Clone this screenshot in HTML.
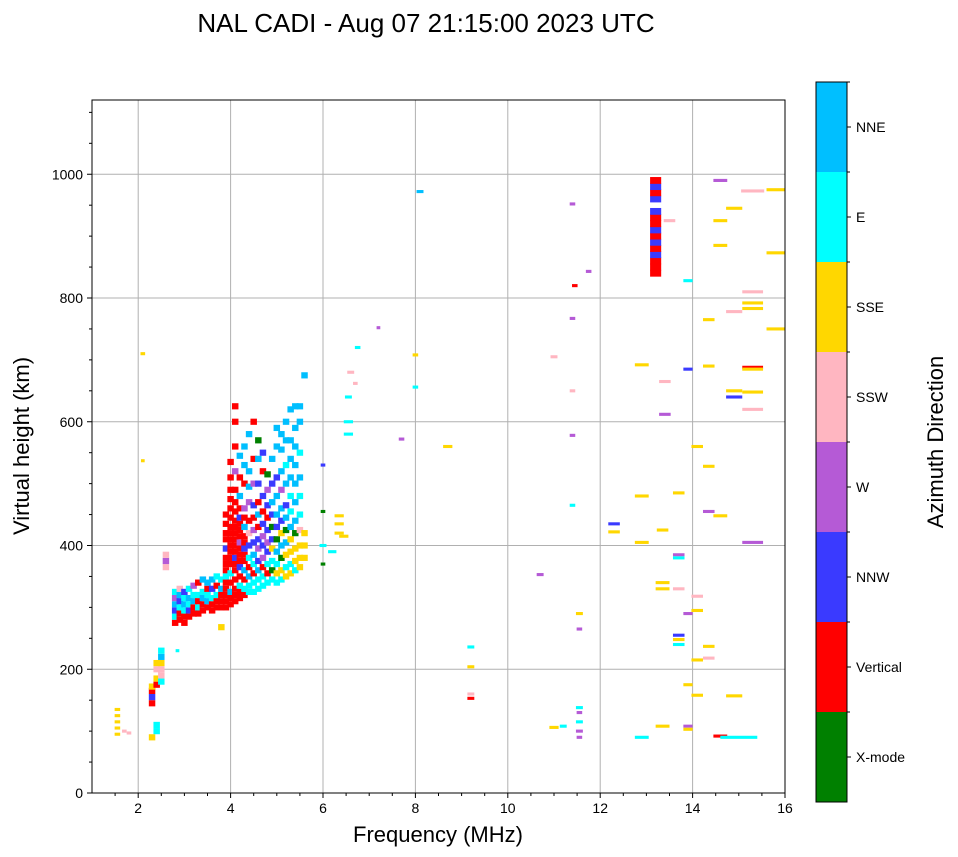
<!DOCTYPE html>
<html><head><meta charset="utf-8"><style>
body{margin:0;background:#fff;}
svg{display:block;font-family:"Liberation Sans","DejaVu Sans",sans-serif;}
</style></head><body>
<svg id="chart" width="958" height="857" viewBox="0 0 958 857" xmlns="http://www.w3.org/2000/svg">
<text x="426" y="32" font-size="26" text-anchor="middle">NAL CADI - Aug 07 21:15:00 2023 UTC</text>
<g id="grid"></g>
<g id="marks"></g>
<rect x="92" y="100" width="693" height="693" fill="none" stroke="#000" stroke-width="1"/>
<g id="axes"></g>
<text x="438" y="842" font-size="22" text-anchor="middle">Frequency (MHz)</text>
<text transform="translate(29,446) rotate(-90)" font-size="22" text-anchor="middle">Virtual height (km)</text>
<g id="cbar"></g>
<text transform="translate(943,442) rotate(-90)" font-size="22" text-anchor="middle">Azimuth Direction</text>
</svg>
<script>
const categories = ["X-mode","Vertical","NNW","W","SSW","SSE","E","NNE"];
const catColors = ["#008000","#ff0000","#3a3aff","#b55ad6","#ffb6c1","#ffd700","#00ffff","#00bfff"];
const xTicks = [2,4,6,8,10,12,14,16];
const yTicks = [0,200,400,600,800,1000];
const clusterFreqs = [2.3,2.4,2.5,2.6,2.8,2.9,3.0,3.1,3.2,3.3,3.4,3.5,3.6,3.7,3.8,3.9,4.0,4.1,4.2,4.3,4.4,4.5,4.6,4.7,4.8,4.9,5.0,5.1,5.2,5.3,5.4,5.5,5.6];
const clusterCells = [
"145:1,155:2,165:1,172:5,90:5",
"100:6,110:6,175:1,185:5,200:4,210:5",
"180:6,190:4,200:4,210:5,220:7,230:6",
"365:4,375:3,385:4",
"275:1,285:6,295:2,305:7,315:3,325:6",
"280:1,290:1,300:6,310:2,320:7,330:4",
"275:1,285:1,295:6,305:7,315:6,325:2",
"285:1,295:2,305:6,315:7,330:6",
"290:1,300:1,310:7,320:6,335:3",
"290:1,300:6,310:1,320:6,340:1",
"295:1,305:1,315:7,325:6,345:7",
"300:1,310:7,320:6,330:1,340:7",
"295:1,305:1,315:6,330:2,345:7",
"300:1,310:1,320:6,335:1,350:6",
"300:1,310:1,320:1,330:7,345:6,268:5",
"300:1,310:1,320:1,330:1,340:1,350:6,360:1,370:1,380:1,395:2,410:1,420:1,435:1,450:1",
"305:1,315:1,325:7,340:1,355:6,370:1,380:1,390:1,400:1,410:1,420:1,430:1,445:1,460:1,475:1,490:1,510:1,535:1",
"310:1,320:1,330:1,345:1,360:1,370:1,380:2,390:1,400:1,410:1,420:1,430:1,440:1,455:1,470:1,490:1,520:3,560:1,600:1,625:1",
"315:1,325:1,335:6,350:1,365:2,375:1,385:1,395:1,405:3,415:1,425:1,435:1,445:2,460:1,480:7,510:1,545:7",
"320:1,330:6,345:1,360:7,375:1,385:1,395:2,405:1,415:1,430:7,445:1,460:3,500:1,530:7,560:7",
"325:6,335:6,350:7,365:1,380:6,400:2,420:4,440:1,470:3,495:7,520:7,580:7",
"325:6,340:6,355:1,370:6,385:7,405:2,425:3,445:1,465:2,500:3,540:1,600:1",
"330:6,345:6,360:7,375:2,395:3,410:2,430:1,450:7,470:1,500:2,540:7,570:0",
"335:6,350:6,365:1,380:3,400:2,415:3,435:2,455:1,480:2,520:1,550:2",
"340:6,355:1,370:6,390:2,405:3,425:2,445:1,465:2,490:3,515:0",
"345:6,360:0,375:6,395:5,410:2,430:0,450:2,470:7,500:2,540:7",
"340:6,355:5,370:6,390:7,410:0,430:2,450:7,480:7,510:2,560:7,590:7",
"345:6,360:5,380:0,400:7,420:5,440:2,460:7,490:3,520:7,555:7,580:7",
"350:5,365:6,385:5,405:7,425:0,445:7,465:2,500:7,530:6,570:7,600:7",
"355:5,370:6,390:5,410:5,430:7,455:6,480:6,510:7,540:7,570:7,620:7",
"360:6,375:5,395:5,420:0,440:7,470:7,500:7,530:7,560:7,590:7,625:7",
"365:5,380:5,400:5,425:4,450:6,480:6,510:7,550:6,600:7,625:7",
"380:5,400:5,420:5,675:7"
];
const scatterFreq = [1.55,1.55,1.55,1.55,1.55,1.7,1.8,2.1,2.1,2.85,6.0,6.0,6.0,6.0,6.2,6.35,6.35,6.35,6.45,6.55,6.55,6.55,6.6,6.7,6.75,7.2,7.7,8.0,8.0,8.1,8.7,9.2,9.2,9.2,9.2,10.7,11.0,11.0,11.2,11.4,11.45,11.4,11.4,11.4,11.4,11.55,11.55,11.55,11.55,11.55,11.55,11.55,11.75,12.3,12.3,12.9,12.9,12.9,12.9,13.5,13.4,13.4,13.35,13.35,13.35,13.35,13.7,13.7,13.7,13.7,13.7,13.7,13.7,13.9,13.9,13.9,13.9,13.9,13.9,14.1,14.1,14.1,14.1,14.1,14.35,14.35,14.35,14.35,14.35,14.35,14.6,14.6,14.6,14.6,14.6,14.9,14.9,14.9,14.9,14.9,15.0,15.3,15.3,15.3,15.3,15.3,15.3,15.3,15.3,15.3,15.8,15.8,15.8];
const scatterHeight = [95,105,115,125,135,100,97,710,537,230,370,400,530,455,390,420,435,448,415,580,600,640,680,662,720,752,572,708,656,972,560,236,204,160,153,353,705,106,108,952,820,767,650,578,465,290,265,138,130,115,100,90,843,435,422,692,480,405,90,925,665,612,425,340,330,108,485,385,380,330,255,248,240,828,685,290,175,108,103,560,318,295,215,158,765,690,528,455,237,218,990,925,885,448,92,945,778,650,640,157,90,973,810,792,783,688,685,648,620,405,975,873,750];
const scatterCat = [5,5,5,5,5,4,4,5,5,6,0,6,2,0,6,5,5,5,5,6,6,6,4,4,6,3,3,5,6,7,5,6,5,4,1,3,4,5,6,3,1,3,4,3,6,5,3,6,3,6,3,3,3,2,5,5,5,5,6,4,4,3,5,5,5,5,5,3,6,4,2,5,6,6,2,3,5,3,5,5,4,5,5,5,5,5,5,3,5,4,3,5,5,5,1,5,4,5,2,5,6,4,4,5,5,1,5,5,4,3,5,5,5];
const scatterWidth = [0.12,0.12,0.12,0.12,0.12,0.1,0.1,0.1,0.08,0.08,0.1,0.15,0.1,0.1,0.18,0.2,0.2,0.2,0.2,0.2,0.2,0.15,0.15,0.1,0.12,0.08,0.12,0.12,0.12,0.15,0.2,0.15,0.15,0.15,0.15,0.15,0.15,0.2,0.15,0.12,0.12,0.12,0.12,0.12,0.12,0.15,0.12,0.15,0.12,0.15,0.15,0.12,0.12,0.25,0.25,0.3,0.3,0.3,0.3,0.25,0.25,0.25,0.25,0.3,0.3,0.3,0.25,0.25,0.25,0.25,0.25,0.25,0.25,0.2,0.2,0.2,0.2,0.2,0.2,0.25,0.25,0.25,0.25,0.25,0.25,0.25,0.25,0.25,0.25,0.25,0.3,0.3,0.3,0.3,0.3,0.35,0.35,0.35,0.35,0.35,0.8,0.5,0.45,0.45,0.45,0.45,0.45,0.45,0.45,0.45,0.4,0.4,0.4];
const columnFreq = 13.2;
const columnHeights = [840,850,860,870,880,890,900,910,920,930,940,960,970,980,990];
const columnCats = [1,1,1,2,1,2,1,2,1,1,2,2,1,2,1];

const NS="http://www.w3.org/2000/svg";
const X0=92,X1=785,Y0=793,Y1=100,FMIN=1,FMAX=16,HMIN=0,HMAX=1120;
function xs(f){return X0+(f-FMIN)/(FMAX-FMIN)*(X1-X0);}
function ys(h){return Y0-(h-HMIN)/(HMAX-HMIN)*(Y0-Y1);}
function el(tag,attrs,parent){const e=document.createElementNS(NS,tag);for(const k in attrs)e.setAttribute(k,attrs[k]);parent.appendChild(e);return e;}
const grid=document.getElementById('grid'),axes=document.getElementById('axes'),marks=document.getElementById('marks'),cbar=document.getElementById('cbar');
xTicks.forEach(t=>{
  const x=xs(t);
  if(t<16){const g=el('line',{x1:x,x2:x,y1:Y1,y2:Y0,stroke:'#b0b0b0','stroke-width':1},grid);
  
  }
  el('line',{x1:x,x2:x,y1:Y0,y2:Y0+5,stroke:'#000'},axes);
  const tx=el('text',{x:x,y:Y0+20,'font-size':14,'text-anchor':'middle'},axes);tx.textContent=t;
  
  
});
for(let f=1.5;f<16;f+=0.5){if(f%2===0)continue;const x=xs(f);el('line',{x1:x,x2:x,y1:Y0,y2:Y0+3,stroke:'#000'},axes);}
yTicks.forEach(t=>{
  const y=ys(t);
  if(t>0){const g=el('line',{x1:X0,x2:X1,y1:y,y2:y,stroke:'#b0b0b0','stroke-width':1},grid);
  
  }
  el('line',{x1:X0-5,x2:X0,y1:y,y2:y,stroke:'#000'},axes);
  const tx=el('text',{x:X0-9,y:y+5,'font-size':14,'text-anchor':'end'},axes);tx.textContent=t;
  
  
});
for(let h=50;h<HMAX;h+=50){if(h%200===0)continue;const y=ys(h);el('line',{x1:X0-3,x2:X0,y1:y,y2:y,stroke:'#000'},axes);}
function cell(f,h,c,w,dh){
  const x=xs(f-w/2),x2=xs(f+w/2),y=ys(h+dh/2),y2=ys(h-dh/2);
  const r=el('rect',{x:x,y:y,width:Math.max(1,x2-x),height:Math.max(1.5,y2-y),fill:catColors[c]},marks);
  
  
}
clusterFreqs.forEach((f,i)=>{
  clusterCells[i].split(',').forEach(tok=>{const p=tok.split(':');cell(f,+p[0],+p[1],0.14,10);});
});
scatterFreq.forEach((f,i)=>cell(f,scatterHeight[i],scatterCat[i],scatterWidth[i],5));
columnHeights.forEach((h,i)=>cell(columnFreq,h,columnCats[i],0.24,11));
const CB0=802,CBH=90;
categories.forEach((name,i)=>{
  const y=CB0-CBH*(i+1);
  const r=el('rect',{x:816,y:y,width:31,height:CBH,fill:catColors[i]},cbar);
  
  
  el('line',{x1:847,x2:851,y1:y+CBH/2,y2:y+CBH/2,stroke:'#000'},cbar);
  el('line',{x1:847,x2:850,y1:y,y2:y,stroke:'#000'},cbar);
  const tx=el('text',{x:856,y:y+CBH/2+5,'font-size':14},cbar);tx.textContent=name;
  
  
});
el('rect',{x:816,y:CB0-CBH*8,width:31,height:CBH*8,fill:'none',stroke:'#000','stroke-width':1},cbar);
</script>
</body></html>
